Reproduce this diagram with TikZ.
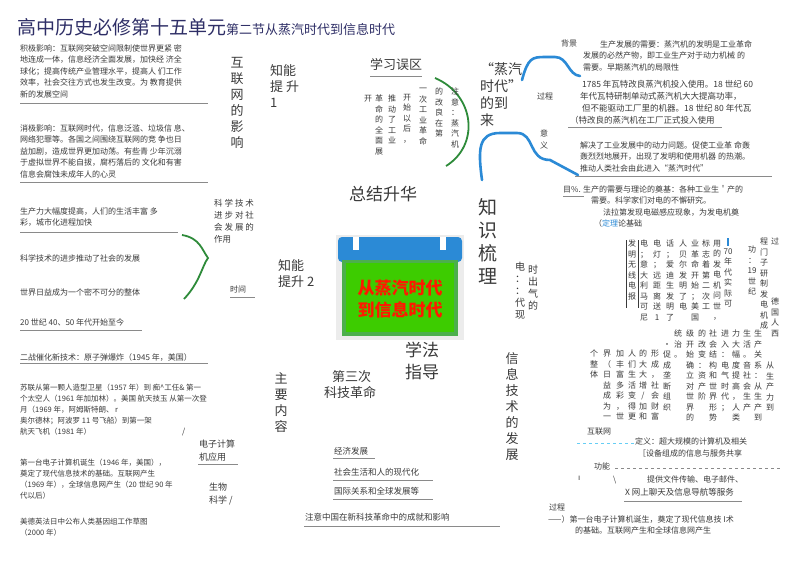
\documentclass[tikz,border=0pt]{standalone}
\usepackage{fontspec}
\setmainfont{Noto Sans CJK SC}
\newfontfamily\dejavu{DejaVu Sans}
\XeTeXlinebreaklocale "zh"
\XeTeXlinebreakskip=0pt plus 1pt
\definecolor{txt}{HTML}{3A3A3A}
\definecolor{navy}{HTML}{2E2E66}
\definecolor{ul}{HTML}{8A8A8A}
\definecolor{bluec}{HTML}{2B8AD6}
\definecolor{greenc}{HTML}{2E8B3A}
\def\vcs#1{\ifx\relax#1\else\hbox to 8pt{\hss#1\hss}\penalty0 \expandafter\vcs\fi}
\tikzset{
 t/.style={anchor=north west,inner sep=0,text=txt,align=left,font=\fontsize{8pt}{11.5pt}\selectfont},
 tb/.style={anchor=north west,inner sep=0,text=txt,align=left,font=\fontsize{13pt}{16pt}\selectfont},
 big/.style={anchor=north west,inner sep=0,text=txt,align=left,font=\fontsize{17pt}{22pt}\selectfont},
 vc/.style={anchor=north,inner sep=0,text=txt,text width=8pt,align=center,font=\fontsize{8pt}{10.5pt}\selectfont},
 vb/.style={anchor=north,inner sep=0,text=txt,text width=14pt,align=center,font=\fontsize{13pt}{16pt}\selectfont},
 uline/.style={draw=ul,line width=1pt},
 blue/.style={draw=bluec,line width=2.6pt,line cap=round},
}
\begin{document}
\begin{tikzpicture}[x=1pt,y=-1pt]
\useasboundingbox (0,0) rectangle (800,560);
\fill[white] (0,0) rectangle (800,560);
% title
\node[anchor=base west,inner sep=0,text=navy,font=\fontsize{19pt}{22pt}\selectfont] (title) at (17,34) {高中历史必修第十五单元\fontsize{13pt}{15pt}\selectfont 第二节从蒸汽时代到信息时代};
% left blocks
\node[t] (b1) at (20,44) {积极影响：互联网突破空间限制使世界更紧 密\\地连成一体，信息经济全面发展，加快经 济全\\球化；提高传统产业管理水平，提高人 们工作\\效率，社会交往方式也发生改变。为 教育提供\\新的发展空间};
\draw[uline] (20,103) -- (208,103);
\node[t] (b2) at (20,124) {消极影响：互联网时代，信息泛滥、垃圾信 息、\\网络犯罪等。各国之间围绕互联网的竞 争也日\\益加剧，造成世界更加动荡。有些青 少年沉溺\\于虚拟世界不能自拔，腐朽落后的 文化和有害\\信息会腐蚀未成年人的心灵};
\draw[uline] (20,182) -- (208,182);
\node[t] (b3) at (20,207) {生产力大幅度提高，人们的生活丰富 多\\彩，城市化进程加快};
\draw[uline] (20,232) -- (178,232);
\node[t] (b4) at (20,255) {科学技术的进步推动了社会的发展};
\node[t] (b5) at (20,288) {世界日益成为一个密不可分的整体};
\node[t] (b6) at (20,319) {20 世纪 40、50 年代开始至今};
\draw[uline] (20,330) -- (142,330);
\node[t] (b7) at (20,353) {二战催化新技术：原子弹爆炸（1945 年，美国）};
\draw[uline] (20,363) -- (208,363);
\node[t,font=\fontsize{7.5pt}{11pt}\selectfont] (b8) at (20,384) {苏联从第一颗人造型卫星（1957 年）到 痴\^{}工任\& 第一\\个太空人（1961 年加加林）。美国 航天技玉 从第一次登\\月（1969 年，阿姆斯特朗、 r\\奥尔德林；阿波罗 11 号飞船）到第一架\\航天飞机（1981 年）};
\node[t] (sl1) at (182,428) {/};
\node[t,font=\fontsize{7.5pt}{11pt}\selectfont] (b9) at (20,459) {第一台电子计算机诞生（1946 年，美国），\\奠定了现代信息技术的基础。互联网产生\\（1969 年），全球信息网产生（20 世纪 90 年\\代以后）};
\node[t,font=\fontsize{7.5pt}{11pt}\selectfont] (b10) at (20,518) {美德英法日中公布人类基因组工作草图\\（2000 年）};
% left-middle labels
\node[vb] (hlw) at (237,57) {互联网的影响};
\node[tb] (zn1) at (270,64) {知能\\提 升\\1};
\node[t,font=\fontsize{8.5pt}{12pt}\selectfont] (kxjs) at (214,199) {科 学 技 术\\进 步 对 社\\会 发 展 的\\作用};
\draw[greenc,line width=1.8pt] (182,235) .. controls (200,238) and (202,250) .. (208,258) .. controls (202,266) and (200,282) .. (184,299);
\node[t] (sj) at (230,286) {时间};
\draw[uline] (230,297) -- (255,297);
\node[tb] (zn2) at (278,259) {知能\\提升 2};
\node[vb] (zynr) at (281,372) {主要内容};
\node[t,font=\fontsize{9pt}{13pt}\selectfont] (dzjs) at (199,440) {电子计算\\机应用};
\draw[uline] (198,464) -- (238,464);
\node[t,font=\fontsize{9pt}{13pt}\selectfont] (swkx) at (209,483) {生物\\科学 /};
% top middle
\node[tb] (xxwq) at (370,58) {学习误区};
\draw[uline] (370,76) -- (422,76);
\draw[greenc,line width=1.8pt] (435,78) .. controls (475,95) and (480,145) .. (446,166);
\node[vc] (v1) at (455,88) {\vcs 注意：蒸汽机\relax};
\node[vc] (v2) at (439,88) {\vcs 的改良在第\relax};
\node[vc] (v3) at (423,88) {\vcs 一次工业革命\relax};
\node[vc] (v4) at (407,94) {\vcs 开始以后，\relax};
\node[vc] (v5) at (392,95) {\vcs 推动了工业\relax};
\node[vc] (v6) at (379,95) {\vcs 革命的全面展\relax};
\node[vc] (v7) at (368,95) {开};
\node[big] (zjsh) at (349,186) {总结升华};
\node[anchor=north,inner sep=0,text=txt,text width=20pt,align=center,font=\fontsize{19pt}{23pt}\selectfont] (zssl) at (488,198) {知识梳理};
% steam age
\node[tb,font=\fontsize{14pt}{17pt}\selectfont] (zq) at (480,62) {“蒸汽\\时代”\\的到\\来};
\draw[blue] (522,80) .. controls (528,58) and (532,57) .. (545,57) -- (555,57) .. controls (568,57) and (568,75) .. (580,76);
\draw[blue] (482,180) .. controls (478,150) and (478,133) .. (500,133) -- (517,133) .. controls (535,133) and (528,160) .. (550,160) -- (578,175);
\node[t] (gc1) at (537,93) {过程};
\node[t] (yy) at (540,130) {意\\义};
\node[t] (bj) at (561,40) {背景};
\node[t] (r1) at (583,40) {\hspace{17pt}生产发展的需要：蒸汽机的发明是工业革命\\发展的必然产物，即工业生产对于动力机械 的\\需要。早期蒸汽机的局限性};
\node[t,font=\fontsize{8.5pt}{12pt}\selectfont] (r2) at (570,80) {\hspace{12pt}1785 年瓦特改良蒸汽机投入使用。18 世纪 60\\\hspace{10pt}年代瓦特研制单动式蒸汽机大大提高功率，\\\hspace{12pt}但不能驱动工厂里的机器。18 世纪 80 年代瓦\\（特改良的蒸汽机在工厂正式投入使用};
\draw[uline] (568,127) -- (722,127);
\node[t] (r3) at (580,141) {解决了工业发展中的动力问题。促使工业革 命轰\\轰烈烈地展开，出现了发明和使用机器 的热潮。\\推动人类社会由此进入“蒸汽时代”};
\draw[uline] (575,176) -- (772,176);
\node[t] (r4) at (563,185) {目\%. 生产的需要与理论的奠基：各种工业生＇产的\\\hspace{28pt}需要。科学家们对电的不懈研究。\\\hspace{40pt}法拉第发现电磁感应现象，为发电机奠\\\hspace{31pt}（\textcolor{bluec}{定理}论基础};
\draw[uline] (563,196) -- (584,196);
% electric age
\node[vc,font=\fontsize{10pt}{12pt}\selectfont,text width=10pt] (e1) at (520,262) {电\\：\\：\\代\\现};
\node[vc,font=\fontsize{10pt}{12pt}\selectfont,text width=10pt] (e2) at (533,265) {时\\出\\气\\的};
% right vertical columns top
\node[vc] (c1a) at (775,238) {过};
\node[vc] (c1) at (775,298) {\vcs 德国人西\relax};
\node[vc] (c2) at (764,238) {\vcs 程门子研制发电机成\relax};
\node[vc] (c3) at (752,246) {\vcs 功：{19}世纪\relax};
\draw[bluec,line width=1.2pt] (728,238) -- (728,246);
\node[vc] (c4) at (728,248) {\vcs {70}年代实际可\relax};
\node[vc] (c5) at (717,240) {\vcs 用的发电机问世，\relax};
\node[vc] (c6) at (706,240) {\vcs 标志着第二次工\relax};
\node[vc] (c7) at (695,240) {\vcs 业革命开始；美国\relax};
\node[vc] (c8) at (683,240) {\vcs 人贝尔发明了电\relax};
\node[vc] (c9) at (670,240) {\vcs 话；爱迪生发明了\relax};
\node[vc] (c10) at (657,240) {\vcs 电灯；远距离送1\relax};
\node[vc] (c11) at (644,240) {\vcs 电；意大利马可尼\relax};
\node[vc] (c12) at (632,240) {\vcs 发明无线电报\relax};
\draw[txt,line width=0.6pt] (626,240) -- (626,308);
\draw[txt,line width=0.6pt] (638,240) -- (638,308);
% right vertical columns bottom
\node[vc] (d1) at (770,362) {\vcs 从生产力到\relax};
\node[vc] (d2) at (758,330) {\vcs 生产关系：从生产到\relax};
\node[vc] (d3) at (747,330) {\vcs 生活。音社会生产\relax};
\node[vc] (d4) at (736,330) {\vcs 力大幅度提高，人类\relax};
\node[vc] (d5) at (725,330) {\vcs 进入：电气时代；\relax};
\node[vc] (d6) at (713,330) {\vcs 社会结构和世界形势\relax};
\node[vc] (d7) at (702,330) {\vcs 的改变：资产阶\relax};
\node[vc] (d8) at (690,330) {\vcs 级开始确立对世界的\relax};
\node[vc] (d9) at (678,330) {\vcs 统治。\relax};
\node[vc] (d10) at (667,343) {\vcs ·促成垄断组织\relax};
\node[vc] (d11) at (655,350) {\vcs 形成，社会财富\relax};
\node[vc] (d12) at (643,350) {\vcs 的大大增/加和\relax};
\node[vc] (d13) at (632,350) {\vcs 人们生活变得更\relax};
\node[vc] (d14) at (620,350) {\vcs 加丰富多彩，世\relax};
\node[vc] (d15) at (607,350) {\vcs 界（日益成为一\relax};
\node[vc] (d16) at (594,350) {\vcs 个整体\relax};
% center picture
\fill[gray!15] (336,235) rectangle (464,340);
\fill[bluec,rounded corners=4pt] (338,237) rectangle (462,262);
\fill[green!55!black!70!white] (342,260) rectangle (458,336);
\fill[green!60!lime!80!black] (346,263) rectangle (454,332);
\fill[white] (353,237) rectangle (359,250);
\fill[white] (440,237) rectangle (446,250);
\node[inner sep=0,align=center,text=red!80!orange,font=\bfseries\fontsize{17pt}{22pt}\selectfont] (pic) at (400,299) {从蒸汽时代\\到信息时代};
% lower middle
\node[big] (xf) at (405,342) {学法\\指导};
\node[tb] (dsc) at (324,370) {\hspace{8pt}第三次\\科技革命};
\node[vb] (xxjs) at (512,352) {信息技术的发展};
\node[t,font=\fontsize{8.5pt}{12pt}\selectfont] (jj) at (334,447) {经济发展};
\draw[uline] (333,458) -- (375,458);
\node[t,font=\fontsize{8.5pt}{12pt}\selectfont] (shsh) at (334,468) {社会生活和人的现代化};
\draw[uline] (333,480) -- (433,480);
\node[t,font=\fontsize{8.5pt}{12pt}\selectfont] (gjgx) at (334,487) {国际关系和全球发展等};
\draw[uline] (333,499) -- (433,499);
\node[t,font=\fontsize{8.5pt}{12pt}\selectfont] (zyzg) at (305,513) {注意中国在新科技革命中的成就和影响};
\draw[uline] (304,526) -- (500,526);
% internet
\node[t] (hlw2) at (587,428) {互联网};
\draw[cyan!60,dashed,line width=0.8pt] (577,443) -- (635,443);
\node[t] (dy) at (635,438) {定义：超大规模的计算机及相关\\\hspace{3pt}［设备组成的信息与服务共享};
\node[t] (gn) at (594,463) {功能};
\draw[ul,dashed,line width=0.6pt] (615,468) -- (780,468);
\node[t,font=\dejavu\fontsize{8pt}{10pt}\selectfont] (tick) at (578,476) {ı};
\node[t] (bs) at (613,476) {\textbackslash};
\node[t] (tg) at (647,476) {提供文件传输、电子邮件、};
\node[t,font=\fontsize{8.5pt}{12pt}\selectfont] (wsl) at (625,488) {X 网上聊天及信息导航等服务};
\draw[uline] (624,501) -- (742,501);
\node[t] (gc2) at (549,504) {过程};
\node[t] (gc3) at (548,515) {——）第一台电子计算机诞生，奠定了现代信息技 \textit{I}术\\\hspace{27pt}的基础。互联网产生和全球信息网产生};
\end{tikzpicture}
\end{document}
